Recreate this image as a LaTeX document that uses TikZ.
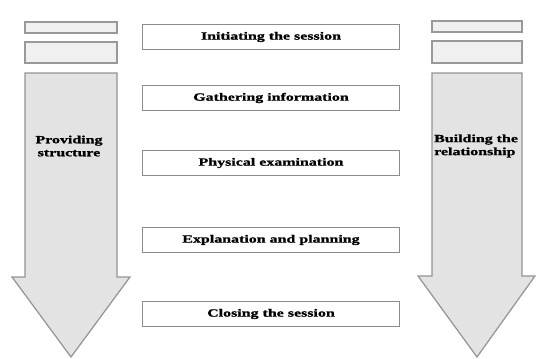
\documentclass[tikz,border=0pt]{standalone}
\usepackage{fontspec}
\setmainfont{Liberation Serif}[FakeStretch=1.45,BoldFeatures={FakeBold=1.2}]
\usepackage{tikz}
\usetikzlibrary{positioning}
\tikzset{
  stagebox/.style={draw=gray!90,line width=1.2pt,fill=white,minimum width=257pt,minimum height=25pt,inner sep=0pt,font=\fontsize{11}{13}\selectfont\bfseries},
  sidebar/.style={draw=gray!80,line width=1.2pt,fill=gray!12},
  bigarrow/.style={draw=gray!85,line width=1.2pt,fill=gray!22,line join=miter},
  sidetext/.style={font=\fontsize{11}{13}\selectfont\bfseries,inner sep=0pt}
}
\begin{document}
\begin{tikzpicture}[x=1pt,y=-1pt]
		\useasboundingbox (0,0) rectangle (536,359);
		%Left column: bars and arrow
		\draw[sidebar] (25,22) rectangle (117,33);
		\draw[sidebar] (25,42) rectangle (117,63);
		\draw[bigarrow] (25,73)--(117,73)--(117,277)--(130,277)--(71,357)--(12,277)--(25,277)--cycle;
		\node[sidetext,align=center] (structure) at (69,146) {Providing\\structure};
		%Right column: bars and arrow
		\draw[sidebar] (432,21) rectangle (522,32);
		\draw[sidebar] (432,41) rectangle (522,63);
		\draw[bigarrow] (432,73)--(522,73)--(522,276)--(535,276)--(477,357)--(418,276)--(432,276)--cycle;
		\begin{scope}
		\clip (432,73) rectangle (521,276);
		\node[sidetext,align=left,anchor=west] (relation) at (434,146) {Building the\\relationship};
		\end{scope}
		%Stages of the consultation
		\foreach \y/\name/\txt in {37/init/Initiating the session,98/gather/Gathering information,163/exam/Physical examination,240/explain/Explanation and planning,314/close/Closing the session}
		\node[stagebox] (\name) at (271,\y) {\txt};
\end{tikzpicture}
\end{document}
